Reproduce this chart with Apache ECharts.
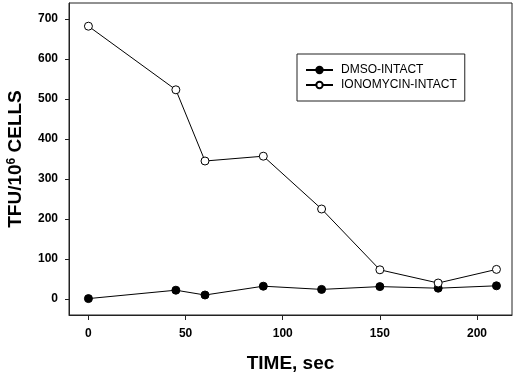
<!DOCTYPE html>
<html>
<head>
<meta charset="utf-8">
<script src="https://cdn.jsdelivr.net/npm/echarts@6/dist/echarts.min.js"></script>
<style>
  html, body { margin: 0; padding: 0; background: #fff; }
  #chart { width: 520px; height: 376px; }
</style>
</head>
<body>
<div id="chart"></div>
<script>
// data
const timeSec = [0, 45, 60, 90, 120, 150, 180, 210];
const dmsoIntact = [1, 22, 10, 32, 24, 31, 27, 33];
const ionomycinIntact = [682, 523, 345, 357, 225, 73, 40, 74];
const xTicks = [0, 50, 100, 150, 200];
const yTicks = [0, 100, 200, 300, 400, 500, 600, 700];

const FONT = '"Liberation Sans", Arial, Helvetica, sans-serif';

function pairs(xs, ys) {
    return xs.map((x, i) => [x, ys[i]]);
}

const chart = echarts.init(document.getElementById('chart'));

const option = {
    animation: false,
    backgroundColor: '#fff',
    grid: {
        left: 69,
        right: 8,
        top: 3,
        bottom: 61,
        outerBoundsMode: 'none',
        show: true,
        borderColor: '#222',
        borderWidth: 1
    },
    legend: {
        orient: 'vertical',
        left: 297,
        top: 54,
        padding: [9, 8, 9, 8],
        itemWidth: 27,
        itemHeight: 8,
        itemGap: 1,
        borderColor: '#222',
        borderWidth: 1,
        textStyle: {
            fontFamily: FONT,
            fontSize: 12,
            lineHeight: 14,
            color: '#000',
            padding: [0, 0, 0, 3]
        },
        data: ['DMSO-INTACT', 'IONOMYCIN-INTACT']
    },
    xAxis: {
        type: 'value',
        min: -10,
        max: 218,
        name: 'TIME, sec',
        nameLocation: 'middle',
        nameGap: 39,
        nameTextStyle: { fontFamily: FONT, fontSize: 19, fontWeight: 'bold', color: '#000' },
        splitLine: { show: false },
        axisLine: { onZero: false, lineStyle: { color: '#222', width: 1 } },
        axisTick: { show: true, inside: false, length: 5, customValues: xTicks, lineStyle: { color: '#222' } },
        axisLabel: {
            customValues: xTicks,
            margin: 13,
            fontFamily: FONT,
            fontSize: 12,
            fontWeight: 'bold',
            color: '#000'
        }
    },
    yAxis: {
        type: 'value',
        min: -40,
        max: 740,
        name: 'TFU/10{sup|6} CELLS',
        nameLocation: 'middle',
        nameGap: 43,
        nameTextStyle: {
            fontFamily: FONT,
            fontSize: 19,
            fontWeight: 'bold',
            color: '#000',
            rich: {
                sup: {
                    fontFamily: FONT,
                    fontSize: 12,
                    fontWeight: 'bold',
                    color: '#000',
                    verticalAlign: 'top',
                    padding: [0, 0, 8, 0]
                }
            }
        },
        splitLine: { show: false },
        axisLine: { onZero: false, lineStyle: { color: '#222', width: 1 } },
        axisTick: { show: true, inside: false, length: 4, customValues: yTicks, lineStyle: { color: '#222' } },
        axisLabel: {
            customValues: yTicks,
            margin: 11,
            fontFamily: FONT,
            fontSize: 12,
            fontWeight: 'bold',
            color: '#000'
        }
    },
    series: [
        {
            name: 'DMSO-INTACT',
            type: 'line',
            data: pairs(timeSec, dmsoIntact),
            symbol: 'circle',
            symbolSize: 8,
            lineStyle: { color: '#000', width: 1 },
            itemStyle: { color: '#000', borderColor: '#000', borderWidth: 1 }
        },
        {
            name: 'IONOMYCIN-INTACT',
            type: 'line',
            data: pairs(timeSec, ionomycinIntact),
            symbol: 'circle',
            symbolSize: 8,
            lineStyle: { color: '#000', width: 1 },
            itemStyle: { color: '#fff', borderColor: '#000', borderWidth: 1 }
        }
    ]
};

chart.setOption(option);
</script>
</body>
</html>
